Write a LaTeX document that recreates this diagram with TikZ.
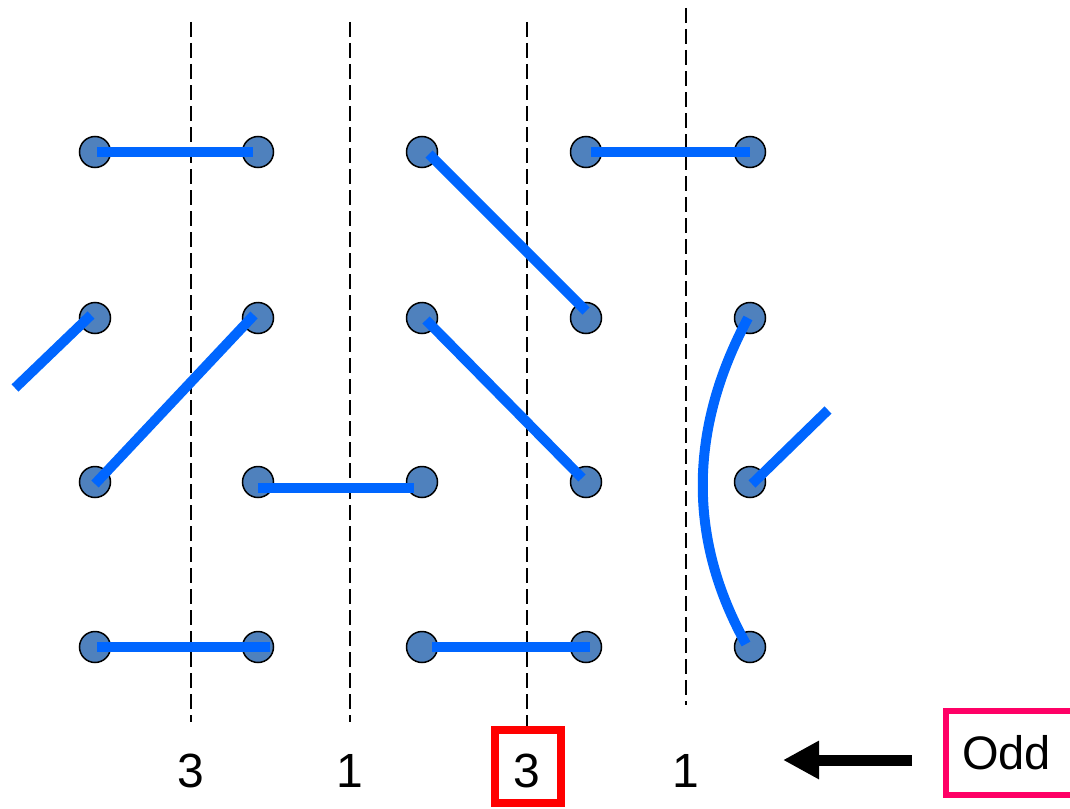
\documentclass[tikz,border=0pt]{standalone}
\usepackage{xcolor}
\usepackage{tikz}
\usepackage{fontspec}
\setmainfont{Liberation Sans}
\usetikzlibrary{arrows.meta, positioning, calc}
\definecolor{dotblue}{RGB}{79, 129, 189}
\definecolor{linkblue}{RGB}{0, 102, 255}
\definecolor{markred}{RGB}{255, 0, 0}
\definecolor{oddpink}{RGB}{255, 0, 102}

\begin{document}
\begin{tikzpicture}[x=1pt, y=-1pt,
        dot/.style={circle, fill=dotblue, draw=black, line width=1.5pt, minimum size=31pt, inner sep=0pt},
        link/.style={draw=linkblue, line width=10pt},
        cut/.style={draw=black, line width=1.6pt, dash pattern=on 15pt off 6pt},
        count/.style={anchor=base, font=\fontsize{48}{56}\selectfont}]
            \useasboundingbox (0,0) rectangle (1070,808);
            % grid of dots
            \foreach \r/\y in {1/152, 2/318, 3/482, 4/647} {
                \foreach \c/\x in {1/95, 2/258, 3/422, 4/586, 5/750} {
                    \node[dot] (d-\r-\c) at (\x,\y) {};
                }
            }
            % cuts
            \draw[cut] (191,22) -- (191,722);
            \draw[cut] (350,22) -- (350,722);
            \draw[cut] (527,22) -- (527,726);
            \draw[cut] (686,8) -- (686,705);
            % free ends
            \coordinate (out-l) at (15,388);
            \coordinate (out-r) at (828,410);
            % links
            \draw[link] ($(d-1-1.center)+(2,0)$) -- ($(d-1-2.center)+(-5,0)$);
            \draw[link] ($(d-1-3.center)+(7,2)$) -- ($(d-2-4.center)+(0,-7)$);
            \draw[link] ($(d-1-4.center)+(5,0)$) -- ($(d-1-5.center)+(0,0)$);
            \draw[link] ($(d-2-1.center)+(-4,-3)$) -- (out-l);
            \draw[link] ($(d-2-2.center)+(-4,-3)$) -- ($(d-3-1.center)+(0,2)$);
            \draw[link] ($(d-2-3.center)+(4,2)$) -- ($(d-3-4.center)+(-4,-4)$);
            \draw[link] ($(d-2-5.center)+(-2,0)$) .. controls (688,430) and (688,540) .. ($(d-4-5.center)+(-4,-3)$);
            \draw[link] ($(d-3-5.center)+(2,2)$) -- (out-r);
            \draw[link] ($(d-3-2.center)+(0,6)$) -- ($(d-3-3.center)+(-8,6)$);
            \draw[link] ($(d-4-1.center)+(2,0)$) -- ($(d-4-2.center)+(12,0)$);
            \draw[link] ($(d-4-3.center)+(10,0)$) -- ($(d-4-4.center)+(4,0)$);
            % counts
            \node[count] (n1) at (191,787) {3};
            \node[count] (n2) at (350,787) {1};
            \node[count] (n3) at (527,787) {3};
            \node[count] (n4) at (686,787) {1};
            \draw[markred, line width=8pt] (495,730) rectangle (561,803);
            % parity
            \node[draw=oddpink, line width=6pt, anchor=west, minimum height=84pt,
                  text width=112pt, align=left, inner xsep=16pt] (odd) at (943,753)
                  {\fontsize{47}{56}\selectfont Odd};
            \coordinate (tip) at (783,760);
            \draw[-{Triangle[length=36pt, width=36pt]}, line width=11pt] (912,760) -- (tip);
        \end{tikzpicture}
\end{document}
